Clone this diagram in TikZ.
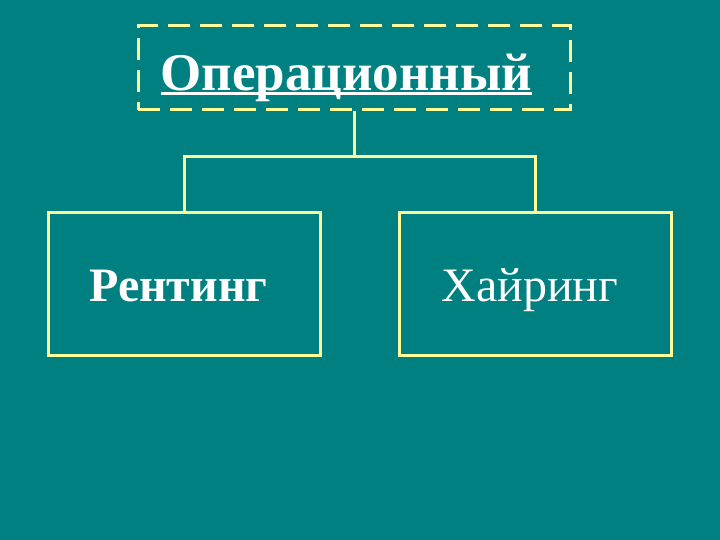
\documentclass[tikz,border=0pt]{standalone}
\usepackage{fontspec}
\setmainfont{Liberation Serif}
\definecolor{slidebg}{HTML}{008080}
\definecolor{paleline}{HTML}{FFFF99}
\newcommand{\titleline}[1]{\setbox0=\hbox{#1}\rlap{\copy0}\rule[-4pt]{\wd0}{2.5pt}}
\begin{document}
\begin{tikzpicture}[x=1pt,y=-1pt]
      \fill [slidebg] (0,0) rectangle (720,540);
      \useasboundingbox (0,0) rectangle (720,540);

      \begin{scope}[every node/.style={rectangle, draw=paleline, line width=3pt, text=white, inner sep=0pt, text depth=0pt}]
        \node [dash pattern=on 22pt off 10pt, minimum width=432pt, minimum height=84pt, text height=46pt] (top) at (354,68)
          {\fontsize{53}{60}\selectfont\bfseries \hspace*{-15pt}\titleline{Операционный}};
        \node [minimum width=272pt, minimum height=142pt, text height=34pt] (rent) at (184,284)
          {\fontsize{48}{56}\selectfont\bfseries \hspace*{-11pt}Рентинг};
        \node [minimum width=272pt, minimum height=142pt, text height=34pt] (hire) at (535.5,284)
          {\fontsize{48}{56}\selectfont \hspace*{-11pt}Хайринг};
      \end{scope}

      \begin{scope}[draw=paleline, line width=3pt]
        \draw (top.south) -- ++(0,45) coordinate (split);
        \draw (rent.north) |- (split) -| (hire.north);
      \end{scope}
   \end{tikzpicture}
\end{document}
